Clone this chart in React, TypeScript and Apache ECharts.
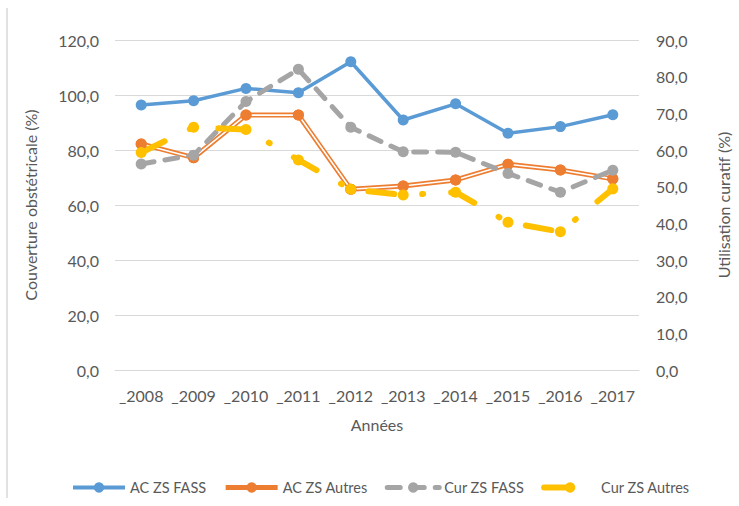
import React, { useEffect, useRef } from "react";
import * as echarts from "echarts";

const categories = ["_2008", "_2009", "_2010", "_2011", "_2012", "_2013", "_2014", "_2015", "_2016", "_2017"];
const acFass = [96.4, 97.9, 102.4, 100.8, 112.1, 90.9, 96.8, 86.1, 88.5, 92.8];
const acAutres = [82.2, 77.2, 92.7, 92.7, 65.7, 66.9, 69.1, 74.8, 72.7, 69.5];
const curFass = [56.2, 58.6, 73.2, 82.0, 66.2, 59.5, 59.4, 53.6, 48.5, 54.5];
const curAutres = [59.3, 66.2, 65.6, 57.3, 49.3, 47.7, 48.5, 40.3, 37.7, 49.4];
const legendNames = ["AC ZS FASS", "AC ZS Autres", "Cur ZS FASS", "Cur ZS Autres"];

const FONT = "Lato";
const TXT = "#595959";

export default function App() {
  const ref = useRef<HTMLDivElement>(null);
  useEffect(() => {
    if (!ref.current) return;
    const chart = echarts.init(ref.current, undefined, { renderer: "svg" });
    const fmt = (v: number) => v.toFixed(1).replace(".", ",");
    chart.setOption({
      animation: false,
      textStyle: { fontFamily: FONT },
      grid: { left: 115, right: 91, top: 40, bottom: 136 },
      legend: {
        data: [
          { name: legendNames[0], lineStyle: { width: 4 } },
          { name: legendNames[1], lineStyle: { width: 5 } },
          { name: legendNames[2], lineStyle: { width: 5 } },
          { name: legendNames[3], lineStyle: { width: 6 } },
        ],
        left: 66,
        top: 475,
        itemWidth: 52,
        itemHeight: 13,
        itemGap: 17,
        textStyle: { fontFamily: FONT, fontSize: 14.5, color: TXT },
      },
      graphic: [
        { type: "line", shape: { x1: 7, y1: 8, x2: 7, y2: 498 }, style: { stroke: "#d9d9d9", lineWidth: 1.5 } },
      ],
      xAxis: {
        type: "category",
        data: categories,
        name: "Années",
        nameLocation: "middle",
        nameGap: 46,
        nameTextStyle: { fontFamily: FONT, fontSize: 16, color: TXT },
        axisLine: { lineStyle: { color: "#d9d9d9", width: 1 } },
        axisTick: { show: false },
        axisLabel: { fontFamily: FONT, fontSize: 16, color: TXT, margin: 17, interval: 0 },
      },
      yAxis: [
        {
          type: "value",
          min: 0,
          max: 120,
          interval: 20,
          name: "Couverture obstétricale (%)",
          nameLocation: "middle",
          nameGap: 77,
          nameTextStyle: { fontFamily: FONT, fontSize: 16, color: TXT },
          axisLine: { show: false },
          axisTick: { show: false },
          splitLine: { lineStyle: { color: "#d9d9d9", width: 1 } },
          axisLabel: { fontFamily: FONT, fontSize: 16, color: TXT, margin: 16, formatter: fmt },
        },
        {
          type: "value",
          min: 0,
          max: 90,
          interval: 10,
          name: "Utilisation curatif (%)",
          nameLocation: "middle",
          nameGap: 76,
          nameTextStyle: { fontFamily: FONT, fontSize: 16, color: TXT },
          axisLine: { show: false },
          axisTick: { show: false },
          splitLine: { show: false },
          axisLabel: { fontFamily: FONT, fontSize: 16, color: TXT, margin: 17, formatter: fmt },
        },
      ],
      series: [
        {
          name: "AC ZS FASS",
          type: "line",
          data: acFass,
          yAxisIndex: 0,
          symbol: "circle",
          symbolSize: 11,
          color: "#5B9BD5",
          lineStyle: { width: 3.5, color: "#5B9BD5" },
          itemStyle: { color: "#5B9BD5" },
        },
        {
          name: "AC ZS Autres",
          type: "line",
          data: acAutres,
          yAxisIndex: 0,
          symbol: "circle",
          symbolSize: 11,
          color: "#ED7D31",
          lineStyle: { width: 5, color: "#ED7D31" },
          itemStyle: { color: "#ED7D31" },
        },
        {
          name: "AC ZS Autres inner",
          type: "line",
          data: acAutres,
          yAxisIndex: 0,
          symbol: "none",
          silent: true,
          lineStyle: { width: 1.6, color: "#ffffff" },
        },
        {
          name: "AC ZS Autres points",
          type: "line",
          data: acAutres,
          yAxisIndex: 0,
          symbol: "circle",
          symbolSize: 11,
          silent: true,
          lineStyle: { width: 0, opacity: 0 },
          itemStyle: { color: "#ED7D31" },
        },
        {
          name: "Cur ZS FASS",
          type: "line",
          data: curFass,
          yAxisIndex: 1,
          symbol: "circle",
          symbolSize: 11,
          color: "#A5A5A5",
          lineStyle: { width: 5, color: "#A5A5A5", type: [13, 11], cap: "round" },
          itemStyle: { color: "#A5A5A5" },
        },
        {
          name: "Cur ZS Autres",
          type: "line",
          data: curAutres,
          yAxisIndex: 1,
          symbol: "circle",
          symbolSize: 11,
          color: "#FFC000",
          lineStyle: { width: 6, color: "#FFC000", type: [26, 28, 1, 28], cap: "round" },
          itemStyle: { color: "#FFC000" },
        },
      ],
    });
    return () => chart.dispose();
  }, []);
  return (
    <div style={{ position: "fixed", left: 0, top: 0, width: 739, height: 506, background: "#fff" }}>
      <div ref={ref} style={{ width: 739, height: 506 }} />
    </div>
  );
}
